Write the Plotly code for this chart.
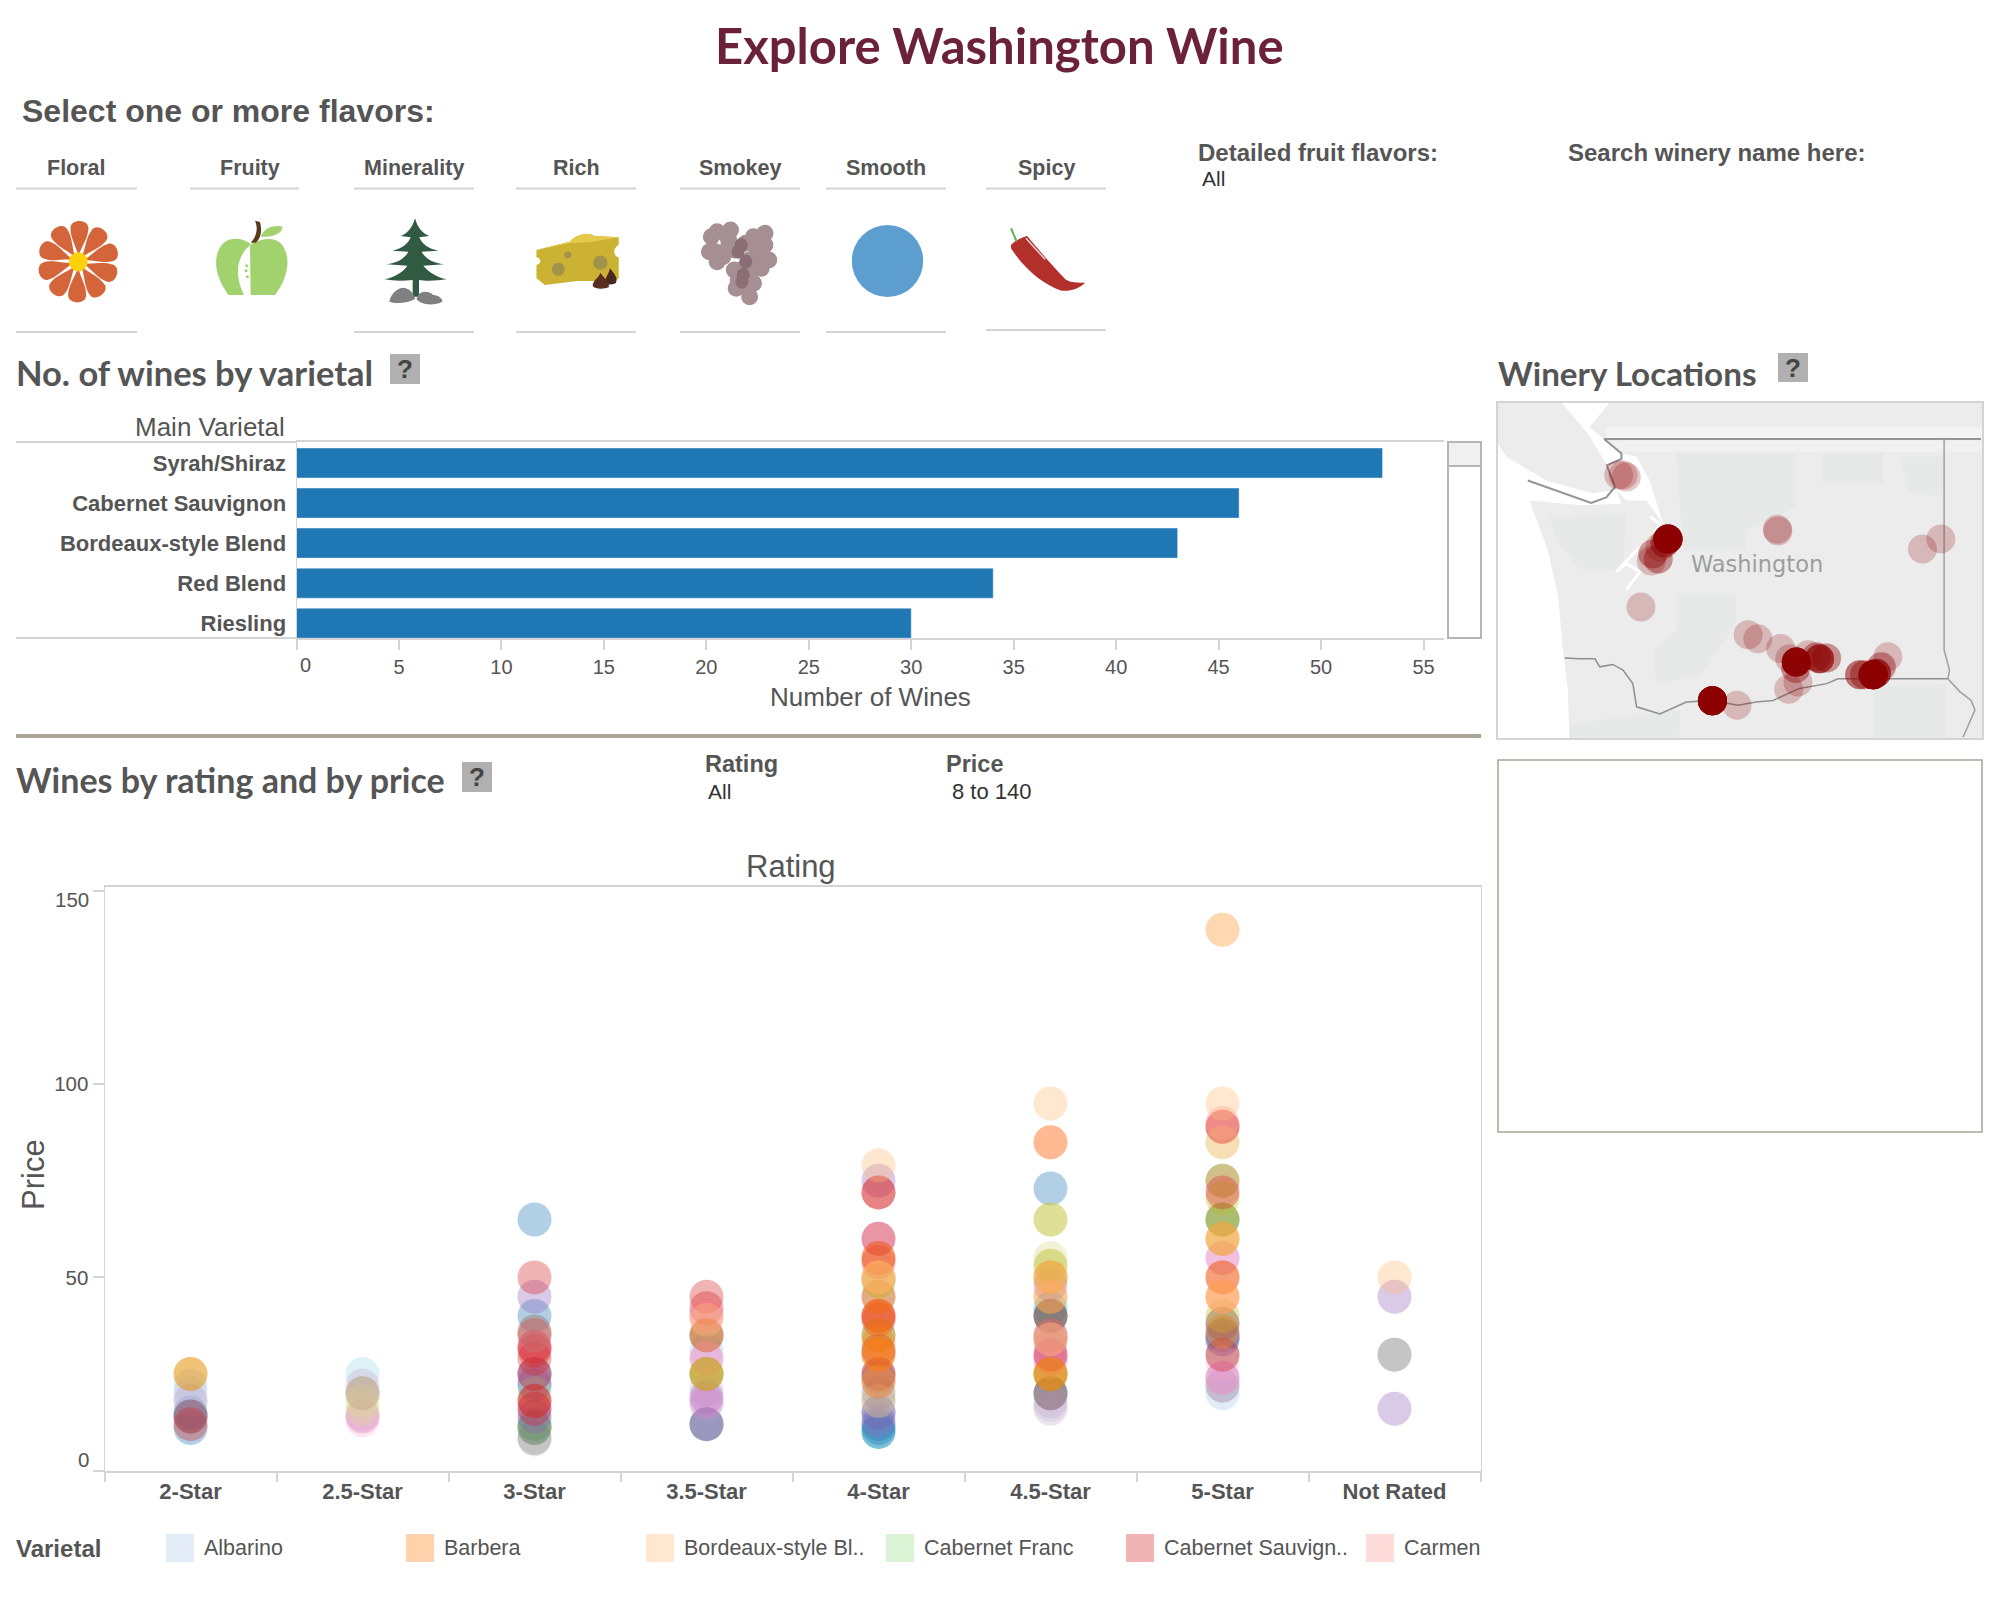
import math
import plotly.graph_objects as go

W, H = 1998, 1598
SANS = "Liberation Sans"
HEAD = "Lato"
GRAY = "#555555"
RULE = "#d4d4d4"

# ---- data ----
main_varietals = ["Syrah/Shiraz", "Cabernet Sauvignon", "Bordeaux-style Blend", "Red Blend", "Riesling"]
wine_counts = [53, 46, 43, 34, 30]
count_ticks = [0, 5, 10, 15, 20, 25, 30, 35, 40, 45, 50, 55]

ratings = ["2-Star", "2.5-Star", "3-Star", "3.5-Star", "4-Star", "4.5-Star", "5-Star", "Not Rated"]
price_ticks = [0, 50, 100, 150]

legend_labels = ["Albarino", "Barbera", "Bordeaux-style Bl..", "Cabernet Franc", "Cabernet Sauvign..", "Carmen"]

# rating / price read per varietal
syrah_rating = ["2-Star", "2-Star", "3-Star", "3-Star", "3-Star", "3-Star", "3.5-Star", "4-Star", "4-Star", "4-Star", "4-Star", "4.5-Star", "4.5-Star", "5-Star", "5-Star"]
syrah_price = [15, 11, 65, 40, 25, 22, 12, 15, 12, 11, 10, 73, 20, 35, 34]
albarino_rating = ["2-Star", "2-Star", "3-Star", "3-Star", "3.5-Star", "5-Star"]
albarino_price = [22, 20, 22, 14, 31, 20]
barbera_rating = ["2-Star", "3.5-Star", "3.5-Star", "4-Star", "4-Star", "4-Star", "4-Star", "4-Star", "4-Star", "4-Star", "4-Star", "4-Star", "4.5-Star", "4.5-Star", "4.5-Star", "4.5-Star", "4.5-Star", "5-Star", "5-Star", "5-Star", "5-Star"]
barbera_price = [25, 35, 25, 55, 50, 45, 40, 35, 33, 30, 30, 23, 85, 50, 45, 25, 25, 60, 50, 45, 36]
bordeaux_rating = ["3.5-Star", "4-Star", "4-Star", "4-Star", "4.5-Star", "4.5-Star", "4.5-Star", "4.5-Star", "5-Star", "5-Star", "5-Star", "5-Star", "5-Star", "5-Star", "Not Rated"]
bordeaux_price = [39, 79, 50, 50, 95, 50, 45, 34, 140, 140, 95, 85, 60, 45, 50]
cab_franc_rating = ["3-Star", "3.5-Star", "4-Star"]
cab_franc_price = [20, 25, 49]
cab_sauv_rating = ["2-Star", "3-Star", "3-Star", "3-Star", "3-Star", "3-Star", "3-Star", "3-Star", "3-Star", "3-Star", "3.5-Star", "3.5-Star", "4-Star", "4-Star", "4-Star", "4-Star", "4-Star", "4-Star", "4-Star", "4-Star", "4-Star", "4-Star", "4.5-Star", "4.5-Star", "5-Star", "5-Star", "5-Star", "5-Star", "5-Star"]
cab_sauv_price = [12, 50, 35, 32, 31, 29, 25, 18, 18, 16, 45, 42, 72, 72, 60, 55, 54, 40, 40, 39, 31, 25, 35, 30, 89, 89, 72, 50, 30]
carmenere_rating = ["3.5-Star", "4.5-Star", "4.5-Star", "5-Star", "5-Star"]
carmenere_price = [40, 85, 34, 90, 45]
chardonnay_rating = ["2-Star", "3-Star", "3-Star", "3-Star", "3-Star", "3-Star", "3.5-Star", "3.5-Star", "4-Star", "4-Star", "4-Star", "4.5-Star", "5-Star", "5-Star", "Not Rated", "Not Rated"]
chardonnay_price = [14, 45, 25, 23, 16, 14, 19, 12, 75, 15, 13, 48, 38, 34, 45, 16]
chenin_rating = ["2-Star", "2.5-Star", "2.5-Star", "3.5-Star", "3.5-Star", "4.5-Star", "4.5-Star", "5-Star", "5-Star"]
chenin_price = [18, 22, 14.5, 21, 17, 18, 16, 24, 22]
gewurz_rating = ["2-Star", "3-Star", "3.5-Star", "4-Star", "4-Star", "4.5-Star", "4.5-Star", "4.5-Star", "4.5-Star", "5-Star", "5-Star"]
gewurz_price = [14, 36, 35, 45, 25, 40, 40, 34, 20, 75, 38]
grenache_rating = ["2.5-Star", "3-Star", "4-Star", "4-Star", "4.5-Star"]
grenache_price = [20, 35, 23, 18, 35]
malbec_rating = ["2.5-Star", "3-Star", "3.5-Star", "3.5-Star", "3.5-Star", "4-Star", "4.5-Star", "4.5-Star", "5-Star", "5-Star"]
malbec_price = [14, 32, 40, 29, 18, 60, 30, 29, 55, 24]
merlot_rating = ["2.5-Star", "3-Star", "3.5-Star", "4.5-Star", "5-Star", "5-Star", "5-Star", "5-Star"]
merlot_price = [13, 32, 29, 28, 73, 55, 28, 24]
pinot_gris_rating = ["2-Star", "2.5-Star", "3-Star", "3-Star", "3.5-Star", "3.5-Star", "4-Star", "4-Star", "4-Star", "4.5-Star", "4.5-Star", "5-Star", "5-Star", "5-Star", "5-Star", "Not Rated"]
pinot_gris_price = [14, 20, 11, 8.4, 35, 12, 31, 24, 20, 40, 20, 65, 35, 30, 22, 30]
pinot_noir_rating = ["2-Star", "3-Star", "4.5-Star", "4.5-Star", "Not Rated"]
pinot_noir_price = [18, 8, 32, 17, 30]
rhone_rating = ["2-Star", "3.5-Star", "4-Star", "4.5-Star", "4.5-Star", "4.5-Star", "4.5-Star", "5-Star", "5-Star", "5-Star", "5-Star", "5-Star"]
rhone_price = [25, 25, 49, 65, 53, 50, 25, 75, 70.5, 65, 60, 40]
riesling_rating = ["2.5-Star", "2.5-Star", "2.5-Star", "4-Star", "4.5-Star", "4.5-Star", "4.5-Star", "5-Star"]
riesling_price = [20, 18, 16, 18, 65, 55, 53, 85]
sangiovese_rating = ["4-Star", "4.5-Star", "4.5-Star"]
sangiovese_price = [10, 42, 40]
sauv_blanc_rating = ["2.5-Star", "5-Star"]
sauv_blanc_price = [25, 36]
zinfandel_rating = ["3-Star", "3-Star", "3.5-Star", "4-Star", "4.5-Star", "5-Star"]
zinfandel_price = [12, 11, 25, 35, 25, 65]

# winery longitude / latitude / wines at that spot
winery_lon = [-123.05, -122.91, -122.97, -122.14, -122.20, -122.29, -122.42, -122.45, -122.32, -122.64, -120.12, -120.11, -117.44, -117.10, -120.66, -120.48, -120.06, -119.89, -119.77, -119.78, -119.55, -119.40, -119.34, -119.21, -119.74, -119.91, -121.32, -120.865, -118.35, -118.29, -118.60, -118.51, -118.08, -118.20]
winery_lat = [48.55, 48.525, 48.55, 47.75, 47.70, 47.65, 47.56, 47.475, 47.50, 46.90, 47.87, 47.85, 47.625, 47.75, 46.55, 46.50, 46.38, 46.25, 46.21, 46.13, 46.30, 46.275, 46.25, 46.26, 45.96, 45.87, 45.725, 45.67, 46.05, 46.07, 46.05, 46.05, 46.275, 46.15]
winery_wines = [1, 1, 1, 15, 3, 1, 2, 1, 2, 1, 1, 1, 1, 1, 1, 1, 1, 1, 12, 2, 1, 2, 5, 2, 1, 1, 20, 1, 20, 5, 3, 2, 1, 2]

# base map outlines
land_lon = [-125.28, -116.34, -116.34, -125.28]
land_lat = [45.26, 45.26, 49.45, 49.45]
ocean_lon = [-125.28, -125.13, -124.39, -123.53, -123.09, -123.00, -123.77, -124.70, -124.36, -124.17, -124.08, -123.99, -123.96, -125.28]
ocean_lat = [48.94, 48.78, 48.48, 48.32, 48.36, 48.19, 48.17, 48.23, 47.61, 47.03, 46.36, 45.86, 45.26, 45.26]
strait_lon = [-124.10, -123.22, -123.59, -123.03, -122.72, -122.48, -122.23, -122.54, -122.91, -123.09, -123.25, -123.60]
strait_lat = [49.45, 49.45, 49.15, 48.82, 48.78, 48.48, 47.94, 48.23, 48.23, 48.36, 48.65, 49.05]
sound_lon = [-122.48, -122.29, -122.45, -122.72, -123.09, -122.91, -122.66, -122.91]
sound_lat = [48.03, 47.94, 47.73, 47.61, 47.34, 47.44, 47.34, 47.11]
olympics_lon = [-124.33, -122.91, -122.97, -123.77, -124.20]
olympics_lat = [48.03, 48.07, 47.36, 47.36, 47.73]
n_cascades_lon = [-121.99, -119.77, -119.77, -120.69, -120.69, -121.86]
n_cascades_lat = [48.82, 48.82, 48.15, 47.86, 47.61, 47.61]
s_cascades_lon = [-121.99, -120.88, -120.88, -121.55, -122.35, -122.42, -121.99]
s_cascades_lat = [47.07, 47.07, 46.69, 46.03, 45.94, 46.36, 46.61]
colville_lon = [-119.28, -118.17, -118.17, -119.28]
colville_lat = [48.82, 48.82, 48.44, 48.44]
kaniksu_lon = [-117.86, -117.06, -117.06, -117.68]
kaniksu_lat = [48.78, 48.78, 48.28, 48.32]
oregon_w_lon = [-123.96, -121.92, -121.92, -123.96]
oregon_w_lat = [45.44, 45.61, 45.26, 45.26]
oregon_e_lon = [-118.35, -117.00, -117.00, -118.35]
oregon_e_lat = [45.90, 45.94, 45.26, 45.26]
band_lon = [-123.28, -116.34, -116.34, -123.28]
band_upper_lat = [49.15, 49.15, 49.00, 49.00]
band_lower_lat = [48.975, 48.975, 48.84, 48.84]
canada_lon = [-116.36, -123.32, -123.00, -123.00, -123.27, -123.12, -123.28, -123.56, -124.73]
canada_lat = [49.00, 49.00, 48.82, 48.75, 48.67, 48.40, 48.27, 48.20, 48.48]
idaho_lon = [-117.04, -117.04, -116.94, -116.97, -116.75, -116.54, -116.47, -116.69]
idaho_lat = [49.00, 46.36, 46.11, 46.00, 45.84, 45.73, 45.61, 45.27]
oregon_lon = [-116.97, -119.00, -119.21, -119.71, -120.20, -120.51, -120.85, -121.31, -121.80, -122.29, -122.72, -122.79, -122.97, -123.16, -123.40, -123.49, -123.77, -124.05]
oregon_lat = [46.00, 46.00, 45.94, 45.88, 45.73, 45.71, 45.67, 45.73, 45.71, 45.56, 45.65, 45.94, 46.11, 46.18, 46.15, 46.25, 46.25, 46.26]

# ---- colours (tableau 20 at 35%) ----
VARIETAL_COLORS = {
    "Albarino": "174,199,232", "Barbera": "255,127,14", "Bordeaux-style Blend": "255,187,120",
    "Cabernet Franc": "152,223,138", "Cabernet Sauvignon": "214,39,40", "Carmenere": "255,152,150",
    "Chardonnay": "148,103,189", "Chenin Blanc": "197,176,213", "Gewurztraminer": "140,86,75",
    "Grenache": "196,156,148", "Malbec": "227,119,194", "Merlot": "247,182,210",
    "Pinot Gris": "127,127,127", "Pinot Noir": "199,199,199", "Rhone-style Blend": "188,189,34",
    "Riesling": "219,219,141", "Sangiovese": "23,190,207", "Sauvignon Blanc": "158,218,229",
    "Syrah/Shiraz": "31,119,180", "Zinfandel": "44,160,44",
}
LEGEND_KEYS = ["Albarino", "Barbera", "Bordeaux-style Blend", "Cabernet Franc", "Cabernet Sauvignon", "Carmenere"]

# draw order, oranges end up on top like the original
scatter_series = [
    ("Pinot Noir", pinot_noir_rating, pinot_noir_price),
    ("Sangiovese", sangiovese_rating, sangiovese_price),
    ("Syrah/Shiraz", syrah_rating, syrah_price),
    ("Albarino", albarino_rating, albarino_price),
    ("Sauvignon Blanc", sauv_blanc_rating, sauv_blanc_price),
    ("Zinfandel", zinfandel_rating, zinfandel_price),
    ("Pinot Gris", pinot_gris_rating, pinot_gris_price),
    ("Chenin Blanc", chenin_rating, chenin_price),
    ("Chardonnay", chardonnay_rating, chardonnay_price),
    ("Gewurztraminer", gewurz_rating, gewurz_price),
    ("Merlot", merlot_rating, merlot_price),
    ("Malbec", malbec_rating, malbec_price),
    ("Cabernet Franc", cab_franc_rating, cab_franc_price),
    ("Riesling", riesling_rating, riesling_price),
    ("Rhone-style Blend", rhone_rating, rhone_price),
    ("Cabernet Sauvignon", cab_sauv_rating, cab_sauv_price),
    ("Grenache", grenache_rating, grenache_price),
    ("Carmenere", carmenere_rating, carmenere_price),
    ("Barbera", barbera_rating, barbera_price),
    ("Bordeaux-style Blend", bordeaux_rating, bordeaux_price),
]


def px_x(x):
    return x / W


def px_y(y):
    return 1 - y / H


def dom_x(a, b):
    return [px_x(a), px_x(b)]


def dom_y(top, bottom):
    return [px_y(bottom), px_y(top)]


annotations = []
shapes = []


def label(text, x, y, size, color=GRAY, bold=False, anchor="left", angle=0, family=SANS):
    annotations.append(dict(
        text=f"<b>{text}</b>" if bold else text,
        x=px_x(x), y=px_y(y), xref="paper", yref="paper",
        xanchor=anchor, yanchor="middle", showarrow=False, textangle=angle,
        font=dict(family=family, size=size, color=color),
    ))


def rule(x0, y0, x1, y1, color=RULE, width=2):
    shapes.append(dict(type="line", xref="paper", yref="paper", x0=px_x(x0), x1=px_x(x1),
                       y0=px_y(y0), y1=px_y(y1), line=dict(color=color, width=width)))


def box(x0, y0, x1, y1, fill="rgba(0,0,0,0)", line=None, width=0):
    shapes.append(dict(type="rect", xref="paper", yref="paper", x0=px_x(x0), x1=px_x(x1),
                       y0=px_y(y0), y1=px_y(y1), fillcolor=fill,
                       line=dict(color=line or "rgba(0,0,0,0)", width=width)))


def blob(cx, cy, rx, ry, fill):
    shapes.append(dict(type="circle", xref="paper", yref="paper", x0=px_x(cx - rx), x1=px_x(cx + rx),
                       y0=px_y(cy - ry), y1=px_y(cy + ry), fillcolor=fill, line=dict(width=0)))


def icon(path, ox, oy, sx, sy, fill=None, line=None, width=0):
    # path coordinates are measured on a crop: origin (ox, oy), scale (sx, sy)
    out, is_x = [], True
    for tok in path.split():
        if tok.isalpha():
            out.append(tok)
        elif is_x:
            out.append(f"{px_x(ox + float(tok) / sx):.5f}")
            is_x = False
        else:
            out.append(f"{px_y(oy + float(tok) / sy):.5f}")
            is_x = True
    shapes.append(dict(type="path", xref="paper", yref="paper", path=" ".join(out),
                       fillcolor=fill or "rgba(0,0,0,0)",
                       line=dict(color=line or "rgba(0,0,0,0)", width=width)))


def help_box(x0, y0, x1, y1):
    box(x0, y0, x1, y1, fill="#b0b0b0")
    label("?", (x0 + x1) / 2, (y0 + y1) / 2, 26, color="#444444", bold=True, anchor="center")


def petal(cx, cy, deg):
    t = math.radians(deg)
    ctrl = [(6, 0), (18, -4), (24, -9), (34, -9), (43, -8.5), (43, 8.5), (34, 9), (24, 9), (18, 4), (6, 0)]
    pts = [(cx + u * math.sin(t) + v * math.cos(t), cy - u * math.cos(t) + v * math.sin(t)) for u, v in ctrl]
    s = [f"{x:.2f} {y:.2f}" for x, y in pts]
    return f"M {s[0]} C {s[1]} {s[2]} {s[3]} C {s[4]} {s[5]} {s[6]} C {s[7]} {s[8]} {s[9]} Z"


# ---- flavor row ----
flavors = [("Floral", 76, 16, 137), ("Fruity", 250, 190, 299), ("Minerality", 414, 354, 474),
           ("Rich", 576, 516, 636), ("Smokey", 740, 680, 800), ("Smooth", 886, 826, 946), ("Spicy", 1046, 986, 1106)]
for name, cx, x0, x1 in flavors:
    label(name, cx, 168, 21.5, bold=True, anchor="center")
    rule(x0, 188.5, x1, 188.5)
    if name == "Spicy":
        rule(x0, 330, x1, 330)
    elif name != "Fruity":
        rule(x0, 332, x1, 332)

# flower
for k in range(10):
    icon(petal(78.3, 261.7, 2 + 36 * k), 0, 0, 1, 1, fill="#d4653a")
blob(78.3, 261.7, 9.5, 9.5, "#ffd10a")

# apple
APPLE = (20, 200, 3, 3)
icon("M 690 135 C 720 115 770 105 790 140 C 815 180 800 240 765 285 L 692 285 Z", *APPLE, fill="#a1d26e")
icon("M 690 130 C 660 110 610 105 592 160 C 578 210 605 255 625 285 L 672 285 C 650 240 640 180 690 135 Z", *APPLE, fill="#a1d26e")
icon("M 705 62 L 720 66 C 726 90 725 110 708 128 L 692 128 C 710 110 715 85 705 62 Z", *APPLE, fill="#5a3a1a")
icon("M 722 110 C 735 80 765 75 788 80 C 785 105 750 112 722 110 Z", *APPLE, fill="#a1d26e")
for sx_, sy_ in [(680, 197), (678, 212), (682, 230)]:
    blob(20 + sx_ / 3, 200 + sy_ / 3, 1.5, 1.5, "#a1d26e")

# tree and rocks
icon("M 1185 55 C 1192 80 1205 100 1228 108 L 1198 112 C 1205 130 1225 148 1255 152 L 1205 155 "
     "C 1215 175 1240 190 1272 193 L 1210 197 C 1225 215 1250 232 1280 238 C 1250 243 1215 243 1197 240 "
     "L 1197 290 L 1178 290 L 1178 240 C 1150 243 1120 243 1093 238 C 1125 232 1150 215 1162 197 "
     "L 1100 193 C 1130 190 1155 175 1165 155 L 1117 152 C 1145 148 1165 130 1172 112 L 1142 108 "
     "C 1165 100 1178 80 1185 55 Z", *APPLE, fill="#305a42")
icon("M 1108 305 C 1110 290 1125 265 1150 263 C 1170 265 1185 285 1185 297 C 1165 308 1130 313 1108 305 Z", *APPLE, fill="#808080")
icon("M 1190 298 C 1192 275 1220 268 1240 285 C 1255 286 1268 295 1267 305 C 1245 317 1205 317 1190 298 Z", *APPLE, fill="#808080")

# cheese
CROP = (520, 200, 2.613, 3)
icon("M 43 150 L 130 125 C 145 105 175 95 195 108 L 258 112 L 258 135 C 240 145 245 170 258 172 L 258 235 "
     "L 240 250 L 190 243 L 150 243 L 65 255 L 43 235 L 43 195 C 58 190 55 175 43 172 Z", *CROP, fill="#ccb233")
icon("M 43 150 L 130 125 C 145 105 175 95 195 108 L 258 112 L 190 125 L 130 130 Z", *CROP, fill="#e4c94b")
for hx, hy, hr in [(100, 208, 6.5), (125, 165, 3.5), (210, 188, 7.2)]:
    blob(520 + hx / 2.613, 200 + hy / 3, hr, hr, "#a2934a")
icon("M 235 205 C 245 220 258 235 250 250 C 240 255 228 255 222 250 C 220 235 232 225 235 205 Z", *CROP, fill="#4a281e")
icon("M 210 218 C 220 235 235 245 232 262 C 220 268 195 268 190 258 C 190 240 205 235 210 218 Z", *CROP, fill="#5a2e1e")

# smoke
smoke_light = [(515, 95), (550, 90), (500, 110), (545, 120), (640, 100), (610, 110), (625, 130), (620, 160),
               (510, 155), (495, 155), (530, 170), (515, 185), (560, 210), (600, 230), (590, 260), (565, 265),
               (600, 290), (650, 180), (630, 205), (600, 180), (560, 150), (590, 130), (585, 205), (570, 240),
               (540, 150), (610, 250), (605, 205), (640, 135)]
for zx, zy in smoke_light:
    blob(520 + zx / 2.613, 200 + zy / 3, 8.5, 8.5, "#a68f92")
for zx, zy in [(578, 135), (570, 155), (590, 185), (583, 225), (580, 245)]:
    blob(520 + zx / 2.613, 200 + zy / 3, 6.5, 7, "#8a6d75")

# smooth circle
blob(887.5, 261, 35.7, 36, "#5b9ecf")

# pepper
icon("M 1283 135 C 1290 125 1305 115 1325 108 C 1345 135 1385 190 1425 238 C 1440 250 1460 248 1477 248 "
     "C 1465 262 1440 275 1415 272 C 1370 255 1320 210 1283 145 Z", *CROP, fill="#b22f2c")
icon("M 1322 115 L 1372 178", *CROP, line="#f3d5d5", width=1.5)
icon("M 1283 85 L 1298 125", *CROP, line="#5db14e", width=2)

# ---- page texts ----
label("Explore Washington Wine", 999, 45, 49, color="#6b2238", bold=True, anchor="center", family=HEAD)
label("Select one or more flavors:", 20, 111, 32, bold=True)
label("Detailed fruit flavors:", 1196, 152, 24, bold=True)
label("All", 1200, 178, 21, color="#333333")
label("Search winery name here:", 1566, 152, 24, bold=True)

label("No. of wines by varietal", 14, 373, 34.5, bold=True, family=HEAD)
help_box(390, 354, 420, 384)
label("Winery Locations", 1496, 373, 33.2, bold=True, family=HEAD)
help_box(1778, 353, 1808, 382)
label("Wines by rating and by price", 14, 779, 34, bold=True, family=HEAD)
help_box(462, 762, 492, 792)

label("Rating", 703, 764, 23.5, bold=True)
label("All", 706, 791, 21, color="#333333")
label("Price", 944, 764, 23.5, bold=True)
label("8 to 140", 950, 791, 22, color="#333333")

rule(16, 736, 1481, 736, color="#aaa598", width=4)
box(1498, 760, 1982, 1132, line="#aaa598", width=1.5)

# ---- bar chart furniture ----
label("Main Varietal", 287, 427, 26, anchor="right")
rule(16, 442, 297, 442)
rule(16, 638, 297, 638)
label("0", 305, 665, 20, anchor="center")
label("Number of Wines", 870, 697, 26, anchor="center")
box(1448, 442, 1481, 638, line="#b5b5b5", width=2)
box(1448, 442, 1481, 466, fill="#f0f0f0", line="#b5b5b5", width=2)

# ---- scatter furniture ----
label("Rating", 791, 867, 31, anchor="center")
label("Price", 33, 1175, 31, anchor="center", angle=-90)
label("150", 91, 899, 20.5, anchor="right")
label("0", 91, 1459, 20.5, anchor="right")

label("Varietal", 14, 1548, 24, bold=True)
legend_swatch_x = [166, 406, 646, 886, 1126, 1366]
for sx_, text, key in zip(legend_swatch_x, legend_labels, LEGEND_KEYS):
    box(sx_, 1534, sx_ + 28, 1562, fill=f"rgba({VARIETAL_COLORS[key]},0.35)")
    label(text, sx_ + 36, 1548, 21.5)

fig = go.Figure()

# ---- bars ----
fig.add_trace(go.Bar(x=wine_counts, y=main_varietals, orientation="h", marker_color="#1f77b4",
                     xaxis="x", yaxis="y", showlegend=False))

# ---- scatter ----
for name, rating, price in scatter_series:
    fig.add_trace(go.Scatter(
        x=rating, y=price, mode="markers", name=name, xaxis="x2", yaxis="y2", showlegend=False,
        marker=dict(size=34, color=f"rgba({VARIETAL_COLORS[name]},0.35)", line=dict(width=0)),
    ))


def map_fill(lon, lat, color):
    fig.add_trace(go.Scatter(x=lon, y=lat, mode="lines", fill="toself", fillcolor=color, line=dict(width=0),
                             xaxis="x3", yaxis="y3", showlegend=False, hoverinfo="skip"))


def map_line(lon, lat, color, width):
    fig.add_trace(go.Scatter(x=lon, y=lat, mode="lines", line=dict(color=color, width=width),
                             xaxis="x3", yaxis="y3", showlegend=False, hoverinfo="skip"))


# ---- map ----
map_fill(land_lon, land_lat, "#ececec")
for lon, lat in [(olympics_lon, olympics_lat), (n_cascades_lon, n_cascades_lat), (s_cascades_lon, s_cascades_lat),
                 (colville_lon, colville_lat), (kaniksu_lon, kaniksu_lat), (oregon_w_lon, oregon_w_lat),
                 (oregon_e_lon, oregon_e_lat)]:
    map_fill(lon, lat, "#e7e9e8")
map_fill(band_lon, band_upper_lat, "#f3f3f3")
map_fill(band_lon, band_lower_lat, "#f1f1f1")
map_fill(ocean_lon, ocean_lat, "#ffffff")
map_fill(strait_lon, strait_lat, "#ffffff")
map_line(sound_lon, sound_lat, "#ffffff", 3)
map_line(canada_lon, canada_lat, "#949494", 2)
map_line(idaho_lon, idaho_lat, "#a0a0a0", 1.5)
map_line(oregon_lon, oregon_lat, "#8f8f8f", 1.5)

stacked_lon, stacked_lat = [], []
for lon, lat, n in zip(winery_lon, winery_lat, winery_wines):
    stacked_lon += [lon] * n
    stacked_lat += [lat] * n
fig.add_trace(go.Scatter(x=stacked_lon, y=stacked_lat, mode="markers", xaxis="x3", yaxis="y3", showlegend=False,
                         marker=dict(size=29, color="rgba(139,0,0,0.22)", line=dict(width=0))))

annotations.append(dict(text="Washington", x=-120.50, y=47.44, xref="x3", yref="y3", showarrow=False,
                        font=dict(family="DejaVu Sans", size=22.5, color="#9b9e9e")))

axis_font = dict(family=SANS, size=20, color=GRAY)
bold_font = dict(family=SANS, size=22, color=GRAY, weight=700)

fig.update_layout(
    width=W, height=H,
    margin=dict(l=0, r=0, t=0, b=0),
    paper_bgcolor="white", plot_bgcolor="rgba(0,0,0,0)",
    showlegend=False, bargap=0.25,
    annotations=annotations, shapes=shapes,
    # bar chart
    xaxis=dict(domain=dom_x(296.5, 1444), anchor="y", range=[0, 56], tickvals=count_ticks,
               ticktext=[""] + [str(v) for v in count_ticks[1:]], tickfont=axis_font,
               ticks="outside", ticklen=10, tickcolor=RULE, tickwidth=1.5, showgrid=False, zeroline=False,
               showline=True, linecolor=RULE, linewidth=1.5, mirror=True),
    yaxis=dict(domain=dom_y(442, 638), anchor="x", type="category", categoryorder="array",
               categoryarray=main_varietals, range=[4.37, -0.525], tickfont=bold_font, ticks="",
               ticklabelstandoff=5, showgrid=False, zeroline=False, showline=True, linecolor=RULE, linewidth=1),
    # scatter
    xaxis2=dict(domain=dom_x(104.5, 1480.5), anchor="y2", type="category", categoryorder="array",
                categoryarray=ratings, range=[-0.5, 7.5], tickfont=bold_font, tickson="boundaries",
                ticks="outside", ticklen=9, tickcolor=RULE, tickwidth=2, showgrid=False, zeroline=False,
                showline=True, linecolor=RULE, linewidth=2, mirror=True),
    yaxis2=dict(domain=dom_y(886.5, 1470.5), anchor="x2", range=[0, 151.2], tickvals=price_ticks,
                ticktext=["", "50", "100", ""], tickfont=dict(family=SANS, size=20.5, color=GRAY),
                ticks="outside", ticklen=11, tickcolor=RULE, tickwidth=1.5, showgrid=False, zeroline=False,
                showline=True, linecolor=RULE, linewidth=1, mirror=True),
    # map
    xaxis3=dict(domain=dom_x(1498, 1982), anchor="y3", range=[-125.28, -116.34], visible=True, showticklabels=False,
                ticks="", showgrid=False, zeroline=False, showline=True, linecolor=RULE, linewidth=2, mirror=True),
    yaxis3=dict(domain=dom_y(403, 738), anchor="x3", range=[45.26, 49.45], visible=True, showticklabels=False,
                ticks="", showgrid=False, zeroline=False, showline=True, linecolor=RULE, linewidth=2, mirror=True),
)

fig.write_html("out.html", config=dict(displayModeBar=False), post_script="document.body.style.margin='0';")
